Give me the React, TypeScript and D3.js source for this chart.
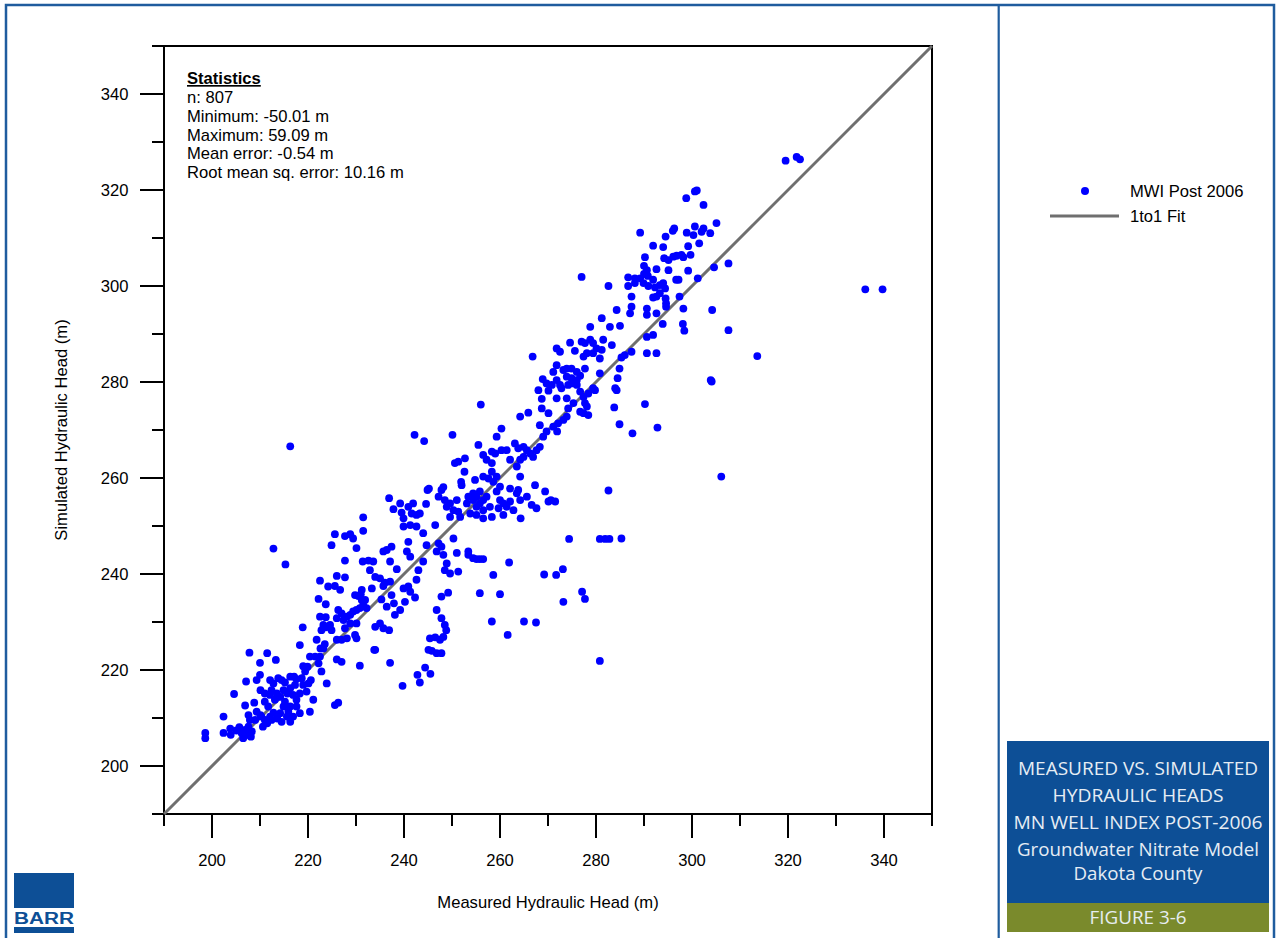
import React from "react";
import * as d3 from "d3";

// ---------- data (measured head, simulated head) ----------
const axisDomain: [number, number] = [190, 350];
const majorTicks = [200, 220, 240, 260, 280, 300, 320, 340];
const minorTicks = [190, 210, 230, 250, 270, 290, 310, 330, 350];
const statsTitle = "Statistics";
const statsLines = ["n: 807", "Minimum: -50.01 m", "Maximum: 59.09 m", "Mean error: -0.54 m", "Root mean sq. error: 10.16 m"];
const legendLabels = ["MWI Post 2006", "1to1 Fit"];
const titleLines = ["MEASURED VS. SIMULATED", "HYDRAULIC HEADS", "MN WELL INDEX POST-2006", "Groundwater Nitrate Model", "Dakota County"];
const figureLabel = "FIGURE 3-6";
const xTitle = "Measured Hydraulic Head (m)";
const yTitle = "Simulated Hydraulic Head (m)";

const headsLow: [number, number][] = [
  [198.6,206.9],[198.6,205.8],[202.4,210.3],[202.4,206.9],[203.8,207.8],[203.9,206.5],[205.1,207.4],[205.7,208.1],[206.2,206.8],[206.9,207.5],
  [207.4,206.5],[208.1,206.1],[206.5,205.8],[208.3,207.2],[207.6,208.2],[204.6,215.0],[206.9,212.6],[207.1,217.6],[207.8,223.6],[210.0,221.5],
  [211.5,223.5],[213.3,222.1],[212.8,245.3],[215.3,242.0],[208.8,213.2],[209.3,211.3],[210.1,210.6],[207.6,210.6],[207.9,209.6],[209.0,209.6],
  [210.3,210.3],[211.0,209.6],[212.1,210.3],[212.8,211.1],[211.5,208.9],[210.6,208.2],[213.6,209.9],[214.5,209.2],[215.6,210.3],[216.3,209.2],
  [216.9,210.3],[218.3,211.0],[217.6,212.4],[216.3,212.4],[215.2,213.4],[214.2,214.4],[213.1,213.8],[212.1,214.8],[211.0,215.1],[210.1,215.8],
  [209.3,217.9],[210.0,219.0],[212.1,217.9],[212.8,217.2],[213.8,218.3],[214.5,217.9],[212.4,215.8],[213.5,215.1],[214.9,215.8],[215.7,215.1],
  [216.3,216.2],[217.3,216.9],[217.6,218.1],[217.1,218.6],[218.7,218.3],[219.0,216.9],[219.7,215.5],[220.1,217.2],[219.4,219.7],[219.0,220.8],
  [219.9,220.7],[220.6,217.9],[221.1,213.8],[220.4,211.3],[218.3,215.1],[217.6,213.8],[216.3,218.6],[215.2,217.4],[216.9,214.8],[214.9,212.4],
  [215.9,211.3],[214.2,211.0],[212.4,209.6],[211.7,212.4],[211.0,213.4],[218.3,225.2],[218.9,228.9],[220.4,222.8],[221.5,222.8],[222.2,221.4],
  [222.8,219.7],[222.5,222.8],[223.2,224.5],[223.5,225.4],[222.6,224.5],[221.8,226.3],[223.9,217.2],[226.3,213.2],[225.6,212.7],[226.0,222.2],
  [227.0,221.7],[230.8,220.9],[233.8,224.2],[237.1,221.5],[239.7,216.7],[242.8,219.0],[243.3,217.4],[222.2,234.8],[223.7,233.7],[222.5,231.1],
  [223.7,231.0],[223.2,229.4],[223.7,228.9],[224.6,229.4],[224.9,228.3],[222.8,228.3],[226.0,230.8],[226.3,232.5],[227.0,231.8],[227.4,230.4],
  [228.1,231.1],[228.8,231.5],[229.4,232.2],[230.1,232.5],[230.8,232.9],[231.5,233.5],[231.9,234.6],[232.2,232.9],[231.2,234.6],[230.5,235.4],
  [229.8,235.6],[227.7,228.7],[228.1,226.6],[227.0,226.3],[226.0,226.3],[229.8,227.3],[230.1,226.6],[230.1,229.7],[228.8,229.7],[222.5,238.6],
  [224.2,237.4],[225.6,237.5],[226.7,236.7],[226.0,239.6],[227.7,239.3],[227.7,242.8],[224.9,246.0],[225.6,248.3],[227.7,247.9],[228.8,248.3],
  [229.4,247.4],[230.1,245.4],[231.5,249.0],[231.4,242.6],[232.6,242.8],[233.6,242.6],[232.9,240.8],[234.0,239.4],[235.0,239.1],[236.0,238.2],
  [237.1,238.4],[235.7,237.5],[233.3,237.0],[231.2,236.7],[231.0,235.8],[235.3,234.7],[237.4,235.6],[237.9,233.9],[239.2,232.5],[238.1,231.5],
  [236.4,233.2],[235.0,229.7],[235.7,228.7],[236.9,228.3],[234.0,229.0],[234.0,224.2],[235.7,244.7],[236.4,245.0],[237.4,245.7],[237.1,242.6],
  [238.5,241.0],[239.9,237.0],[240.9,237.4],[241.3,236.3],[242.3,235.1],[240.2,234.2],[242.6,238.8],[243.0,240.8],[244.0,242.6],[244.7,246.0],
  [239.9,249.9],[241.3,250.2],[242.6,249.9],[244.0,248.5],[240.9,246.7],[240.6,244.7],[241.3,243.6],[216.3,266.6],[245.5,219.2],[244.4,220.5],
  [231.5,251.8]
];

const headsMid: [number, number][] = [
  [242.2,269.0],[244.2,267.7],[250.1,269.0],[256.0,275.3],[236.9,255.8],[237.8,253.5],[239.2,254.7],[239.5,252.8],[239.9,251.6],[240.9,254.0],
  [241.6,252.6],[241.9,254.7],[242.6,252.3],[243.3,252.6],[244.6,254.6],[244.9,257.5],[245.2,257.8],[247.2,256.1],[247.8,257.5],[248.2,258.1],
  [248.5,255.4],[248.9,254.0],[249.6,254.7],[250.3,253.3],[251.0,255.4],[251.3,253.0],[251.7,251.9],[249.6,251.9],[250.6,263.1],[251.3,263.4],
  [252.7,264.1],[252.6,261.3],[251.9,259.2],[252.0,258.5],[253.8,252.6],[253.1,254.7],[253.4,256.1],[254.4,255.4],[255.1,254.0],[255.8,254.7],
  [256.5,255.4],[255.1,256.1],[254.4,256.8],[255.8,257.2],[257.2,256.1],[256.5,253.3],[257.9,254.0],[258.3,251.9],[255.1,252.3],[256.5,251.6],
  [254.8,259.6],[255.5,266.9],[256.5,264.8],[257.2,263.8],[258.3,263.1],[256.5,260.3],[257.6,259.9],[258.3,261.3],[258.6,259.2],[259.3,260.3],
  [260.0,258.2],[259.3,257.2],[260.0,255.4],[259.7,253.7],[260.7,254.7],[261.4,254.0],[262.1,255.1],[260.7,252.3],[262.8,253.3],[262.1,257.8],
  [262.1,263.8],[261.4,265.8],[260.3,265.8],[259.0,265.1],[258.3,265.5],[259.3,268.6],[260.3,270.3],[263.1,267.2],[263.8,266.2],[264.9,266.5],
  [265.6,265.8],[266.3,265.1],[266.9,264.4],[267.6,265.8],[268.3,266.5],[269.0,268.6],[268.3,271.0],[269.7,269.7],[264.2,272.8],[265.9,273.6],
  [268.7,274.5],[270.1,273.5],[264.2,263.8],[264.9,264.4],[263.5,262.4],[264.2,260.3],[263.8,257.5],[263.5,256.8],[264.2,255.4],[265.6,256.1],
  [267.3,258.5],[269.4,257.2],[264.3,251.6],[266.6,254.4],[267.6,253.7],[270.1,255.1],[246.5,250.2],[247.2,246.4],[246.8,244.7],[247.8,245.7],
  [248.2,244.0],[248.9,242.2],[248.5,240.8],[250.3,247.4],[251.0,244.4],[251.3,240.5],[249.6,240.1],[253.4,244.7],[253.4,244.0],[254.4,243.3],
  [255.1,243.1],[255.8,243.1],[256.5,243.1],[258.6,239.8],[261.9,242.4],[269.2,239.9],[255.8,236.0],[260.0,235.8],[258.3,230.1],[265.0,230.1],
  [267.5,229.9],[261.6,227.3],[249.2,236.1],[247.8,235.3],[246.8,232.5],[247.8,230.8],[248.5,229.4],[248.8,228.3],[248.2,226.9],[247.5,226.3],
  [246.5,226.8],[245.4,226.6],[247.8,223.5],[246.8,223.5],[245.8,224.0],[245.1,224.2]
];

const headsUpperMid: [number, number][] = [
  [266.8,285.3],[271.8,287.0],[272.5,286.3],[274.6,288.2],[275.6,286.5],[277.0,288.4],[277.7,288.1],[278.8,288.8],[279.4,288.1],[280.1,287.0],
  [281.2,286.7],[281.5,288.8],[283.3,287.7],[277.4,285.3],[278.1,286.0],[279.4,286.0],[280.8,284.9],[278.8,291.5],[281.2,293.3],[282.9,291.5],
  [285.0,291.7],[284.3,295.0],[287.4,295.7],[287.1,294.3],[290.6,295.3],[290.6,294.0],[292.6,294.3],[291.9,289.8],[290.6,289.4],[292.6,286.0],
  [290.6,286.0],[287.4,286.3],[286.0,285.6],[285.3,285.1],[284.9,282.8],[280.8,281.8],[279.4,278.7],[279.8,278.3],[278.4,277.6],[277.4,276.9],
  [276.7,278.0],[276.0,279.4],[275.3,279.7],[274.9,280.8],[274.2,279.4],[273.9,281.1],[273.2,282.5],[273.9,282.8],[274.9,282.8],[276.0,282.1],
  [276.7,281.3],[277.7,282.8],[276.0,280.4],[271.8,283.5],[271.1,282.1],[271.8,280.4],[272.5,279.4],[272.8,278.7],[270.8,279.4],[269.7,279.7],
  [268.9,280.6],[268.0,278.3],[270.1,278.2],[271.8,276.6],[273.9,276.6],[268.7,276.5],[284.5,280.8],[284.0,278.7],[284.3,278.3],[283.8,274.7],
  [284.9,271.2],[287.6,269.3],[290.2,275.4],[292.8,270.5],[277.7,275.6],[278.1,274.9],[278.4,273.1],[276.7,273.8],[275.3,275.6],[274.2,274.5],
  [277.4,273.5],[273.9,272.8],[273.2,272.1],[272.1,271.4],[271.1,270.7],[271.9,269.7],[282.6,257.4],[274.4,247.3],[280.8,247.3],[281.9,247.3],
  [282.8,247.3],[285.3,247.4],[271.5,255.1],[270.6,255.4]
];

const headsHigh: [number, number][] = [
  [298.8,318.3],[300.6,319.7],[301.0,319.9],[302.4,316.9],[305.1,313.1],[289.2,311.1],[296.3,312.0],[296.0,311.5],[298.9,311.1],[300.6,312.4],
  [302.4,312.0],[300.3,310.6],[302.0,311.3],[303.8,311.0],[294.5,310.3],[291.9,308.4],[294.0,308.1],[299.2,308.3],[301.5,308.9],[290.2,306.0],
  [294.2,305.8],[295.1,305.4],[296.1,306.1],[296.8,306.3],[297.8,306.5],[298.2,306.0],[299.7,306.5],[292.6,303.5],[295.1,303.3],[297.2,301.3],
  [299.2,303.2],[296.7,301.3],[290.0,304.2],[290.6,303.3],[290.0,302.5],[290.8,302.1],[289.2,301.6],[288.1,301.6],[286.7,301.8],[286.7,300.0],
  [288.1,300.6],[289.9,300.6],[290.9,300.0],[291.9,301.3],[292.3,299.7],[293.3,300.2],[294.0,300.6],[294.4,299.5],[293.3,298.5],[292.6,297.8],
  [291.9,297.6],[282.6,300.0],[277.0,301.9],[287.4,297.8],[294.5,297.4],[294.6,296.4],[294.6,295.7],[297.4,297.8],[298.2,295.3],[293.9,292.1],
  [298.1,292.1],[298.4,290.7],[304.2,295.0],[307.6,290.8],[307.6,304.7],[304.6,303.9],[301.2,301.6],[313.6,285.4],[304.1,280.1],[303.9,280.4],
  [319.5,326.1],[321.8,326.9],[322.5,326.4],[336.1,299.3],[339.7,299.3],[280.8,221.9],[306.1,260.3],[273.1,241.0],[271.7,239.8],[277.1,236.3],
  [277.7,234.8],[273.2,234.2]
];

const FRAME = "#1f5c9e";
const TITLE_BLUE = "#0d4f96";
const OLIVE = "#7a8a2c";
const DOT = "#0000ff";
const LINE_GREY = "#6f6f6f";
const FONT = "'Liberation Sans', Arial, Helvetica, sans-serif";
const TITLE_FONT = "'Open Sans', 'Noto Sans', sans-serif";
const FS = 16.6;

export default function App() {
  const x = d3.scaleLinear().domain(axisDomain).range([164, 932]);
  const y = d3.scaleLinear().domain(axisDomain).range([814, 46]);
  const allPoints = [...headsLow, ...headsMid, ...headsUpperMid, ...headsHigh];
  const oneToOne = d3.line<number>().x((d) => x(d)).y((d) => y(d))(axisDomain) || "";

  const titleWidths = [240, 171, 249, 242, 129];
  const titleBaselines = [775, 802, 829, 856, 880];

  return (
    <svg width={1277} height={938} style={{ position: "absolute", left: 0, top: 0, background: "#fff" }}>
      {/* outer frame */}
      <rect x={6} y={5} width={1268} height={960} fill="none" stroke={FRAME} strokeWidth={2.5} />
      <line x1={998.7} y1={5} x2={998.7} y2={938} stroke={FRAME} strokeWidth={2.2} />

      {/* plot frame */}
      <rect x={164} y={46} width={768} height={768} fill="none" stroke="#000" strokeWidth={2} />

      {/* y axis ticks */}
      {majorTicks.map((t) => (
        <g key={"ym" + t}>
          <line x1={140} x2={164} y1={y(t)} y2={y(t)} stroke="#000" strokeWidth={2} />
          <text x={128.5} y={y(t)} dy="0.36em" textAnchor="end" fontFamily={FONT} fontSize={FS} fill="#000">{t}</text>
        </g>
      ))}
      {minorTicks.map((t) => (
        <line key={"yn" + t} x1={152} x2={164} y1={y(t)} y2={y(t)} stroke="#000" strokeWidth={2} />
      ))}
      {/* x axis ticks */}
      {majorTicks.map((t) => (
        <g key={"xm" + t}>
          <line x1={x(t)} x2={x(t)} y1={814} y2={838} stroke="#000" strokeWidth={2} />
          <text x={x(t)} y={866} textAnchor="middle" fontFamily={FONT} fontSize={FS} fill="#000">{t}</text>
        </g>
      ))}
      {minorTicks.map((t) => (
        <line key={"xn" + t} x1={x(t)} x2={x(t)} y1={814} y2={826} stroke="#000" strokeWidth={2} />
      ))}

      {/* axis titles */}
      <text x={548} y={908} textAnchor="middle" fontFamily={FONT} fontSize={FS} fill="#000">{xTitle}</text>
      <text transform={`translate(67,430) rotate(-90)`} textAnchor="middle" fontFamily={FONT} fontSize={FS} fill="#000">{yTitle}</text>

      {/* 1:1 line */}
      <path d={oneToOne} stroke={LINE_GREY} strokeWidth={3} fill="none" />

      {/* points */}
      {allPoints.map((p, i) => (
        <circle key={i} cx={x(p[0])} cy={y(p[1])} r={3.9} fill={DOT} />
      ))}

      {/* statistics */}
      <text x={187} y={84} fontFamily={FONT} fontSize={FS} fontWeight="bold" textDecoration="underline" fill="#000">{statsTitle}</text>
      {statsLines.map((s, i) => (
        <text key={s} x={187} y={103 + i * 18.8} fontFamily={FONT} fontSize={FS} fill="#000">{s}</text>
      ))}

      {/* legend */}
      <circle cx={1085} cy={191} r={4} fill={DOT} />
      <text x={1130} y={197} fontFamily={FONT} fontSize={FS} fill="#000">{legendLabels[0]}</text>
      <line x1={1050} x2={1119} y1={216} y2={216} stroke={LINE_GREY} strokeWidth={3} />
      <text x={1130} y={222} fontFamily={FONT} fontSize={FS} fill="#000">{legendLabels[1]}</text>

      {/* title block */}
      <rect x={1007} y={741} width={262} height={163} fill={TITLE_BLUE} />
      <rect x={1007} y={903} width={262} height={29} fill={OLIVE} />
      {titleLines.map((s, i) => (
        <text key={s} x={1138} y={titleBaselines[i]} textAnchor="middle" fontFamily={TITLE_FONT} fontSize={18.5}
          fill="#e6edf4" textLength={titleWidths[i]} lengthAdjust="spacingAndGlyphs">{s}</text>
      ))}
      <text x={1138} y={924} textAnchor="middle" fontFamily={TITLE_FONT} fontSize={18.5} fill="#e6edf0"
        textLength={97} lengthAdjust="spacingAndGlyphs">{figureLabel}</text>

      {/* BARR logo */}
      <rect x={14} y={873} width={60} height={35} fill={TITLE_BLUE} />
      <text x={44} y={924} textAnchor="middle" fontFamily={FONT} fontSize={16} fontWeight="bold" fill={TITLE_BLUE}
        textLength={60} lengthAdjust="spacingAndGlyphs">BARR</text>
      <rect x={14} y={927} width={60} height={6} fill={TITLE_BLUE} />
    </svg>
  );
}
